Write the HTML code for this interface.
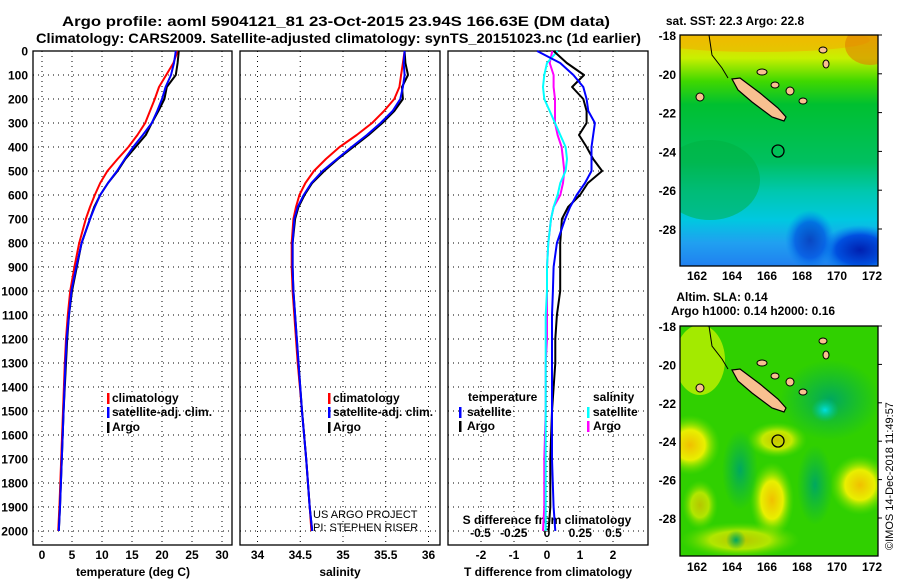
<!DOCTYPE html>
<html><head><meta charset="utf-8">
<style>
body{margin:0;background:#fff;}
svg{display:block;font-family:"Liberation Sans",sans-serif;font-weight:bold;}
</style></head>
<body>
<svg id="c" width="900" height="580" viewBox="0 0 900 580">
<defs>
<linearGradient id="sstg" x1="0" y1="0" x2="0" y2="1">
<stop offset="0" stop-color="#f0c800"/><stop offset="0.1" stop-color="#c8f000"/><stop offset="0.2" stop-color="#40d800"/>
<stop offset="0.3" stop-color="#00c030"/><stop offset="0.55" stop-color="#00c060"/><stop offset="0.68" stop-color="#00c8b0"/>
<stop offset="0.8" stop-color="#00c8e0"/><stop offset="0.9" stop-color="#20a0f0"/><stop offset="1" stop-color="#2080f0"/>
</linearGradient>
<radialGradient id="yb"><stop offset="0" stop-color="#f0c000"/><stop offset="0.5" stop-color="#e8f000"/><stop offset="1" stop-color="#60e000" stop-opacity="0"/></radialGradient>
<radialGradient id="db"><stop offset="0" stop-color="#0020b0"/><stop offset="0.6" stop-color="#0050e0"/><stop offset="1" stop-color="#0080f0" stop-opacity="0"/></radialGradient>
<radialGradient id="cb"><stop offset="0" stop-color="#00e0e0"/><stop offset="1" stop-color="#00c0a0" stop-opacity="0"/></radialGradient>
<radialGradient id="gb"><stop offset="0" stop-color="#00a860"/><stop offset="1" stop-color="#00b050" stop-opacity="0"/></radialGradient>
<clipPath id="m1"><rect x="680" y="35" width="198" height="231"/></clipPath>
<clipPath id="m2"><rect x="680" y="326" width="198" height="230"/></clipPath>
</defs>
<text x="62" y="26" font-size="14" textLength="548" lengthAdjust="spacingAndGlyphs">Argo profile: aoml 5904121_81 23-Oct-2015 23.94S 166.63E (DM data)</text>
<text x="36" y="43" font-size="14" textLength="605" lengthAdjust="spacingAndGlyphs">Climatology: CARS2009. Satellite-adjusted climatology: synTS_20151023.nc (1d earlier)</text>
<g id="panels"></g>
<g id="maps">
<g clip-path="url(#m1)">
<rect x="680" y="35" width="198" height="231" fill="url(#sstg)"/>
<ellipse cx="760" cy="40" rx="110" ry="12" fill="#f0b000" opacity="0.6"/>
<ellipse cx="870" cy="45" rx="25" ry="20" fill="#e08000" opacity="0.6"/>
<ellipse cx="860" cy="250" rx="40" ry="25" fill="url(#db)"/>
<ellipse cx="810" cy="240" rx="25" ry="30" fill="url(#db)" opacity="0.7"/>
<ellipse cx="710" cy="180" rx="50" ry="40" fill="#00b040" opacity="0.5"/>
</g>
<g clip-path="url(#m2)">
<rect x="680" y="326" width="198" height="230" fill="#30d000"/>
<ellipse cx="700" cy="360" rx="25" ry="35" fill="#c0f000" opacity="0.8"/>
<ellipse cx="830" cy="400" rx="50" ry="40" fill="url(#gb)"/>
<ellipse cx="825" cy="410" rx="14" ry="12" fill="url(#cb)"/>
<ellipse cx="690" cy="445" rx="30" ry="30" fill="url(#yb)"/>
<ellipse cx="777" cy="440" rx="30" ry="18" fill="url(#yb)" opacity="0.8"/>
<ellipse cx="860" cy="485" rx="30" ry="30" fill="url(#yb)"/>
<ellipse cx="772" cy="500" rx="22" ry="38" fill="url(#yb)"/>
<ellipse cx="700" cy="505" rx="18" ry="25" fill="url(#yb)" opacity="0.7"/>
<ellipse cx="740" cy="540" rx="60" ry="18" fill="url(#yb)" opacity="0.7"/>
<ellipse cx="740" cy="470" rx="18" ry="40" fill="url(#gb)"/>
<ellipse cx="815" cy="485" rx="18" ry="40" fill="url(#gb)"/>
<ellipse cx="736" cy="540" rx="10" ry="10" fill="url(#gb)"/>
</g>
</g>
<text x="735" y="25" font-size="12" text-anchor="middle">sat. SST: 22.3 Argo: 22.8</text>
<text x="722" y="301" font-size="12" text-anchor="middle">Altim. SLA: 0.14</text>
<text x="753" y="315" font-size="12" text-anchor="middle">Argo h1000: 0.14 h2000: 0.16</text>
<text transform="translate(893,550) rotate(-90)" font-size="11" font-weight="normal">©IMOS 14-Dec-2018 11:49:57</text>
</svg>
<script>
// Temperature profile data (deg C) by depth (m)
var depths = [0, 50, 100, 150, 200, 250, 300, 350, 400, 450, 500, 550, 600, 650, 700, 800, 900, 1000, 1100, 1200, 1300, 1500, 1700, 1900, 2000];
var tempClim = [22.6, 21.9, 20.7, 19.5, 18.8, 18.0, 17.2, 15.9, 14.4, 12.6, 10.9, 9.7, 8.8, 8.0, 7.3, 6.2, 5.4, 4.7, 4.3, 4.0, 3.8, 3.5, 3.2, 2.9, 2.7];
var tempSat = [22.3, 22.0, 21.5, 20.6, 20.0, 19.2, 18.3, 16.8, 15.2, 13.8, 12.5, 11.0, 9.7, 8.8, 8.0, 6.6, 5.7, 4.9, 4.5, 4.1, 3.9, 3.6, 3.3, 3.0, 2.8];
var tempArgo = [22.8, 22.6, 22.3, 20.8, 20.4, 19.4, 18.3, 17.3, 15.6, 13.9, 12.6, 11.0, 9.7, 8.7, 8.0, 6.6, 5.8, 5.0, 4.5, 4.2, 4.0, 3.6, 3.3, 3.0, 2.8];
// Salinity
var salClim = [35.72, 35.70, 35.68, 35.66, 35.60, 35.48, 35.34, 35.16, 34.96, 34.80, 34.66, 34.56, 34.49, 34.45, 34.42, 34.40, 34.40, 34.41, 34.43, 34.45, 34.47, 34.52, 34.57, 34.61, 34.63];
var salSat = [35.72, 35.71, 35.72, 35.70, 35.67, 35.58, 35.44, 35.28, 35.10, 34.93, 34.76, 34.63, 34.54, 34.47, 34.43, 34.41, 34.41, 34.42, 34.44, 34.46, 34.48, 34.52, 34.57, 34.61, 34.64];
var salArgo = [35.72, 35.73, 35.76, 35.69, 35.70, 35.60, 35.46, 35.30, 35.12, 34.94, 34.78, 34.64, 34.55, 34.48, 34.44, 34.41, 34.41, 34.42, 34.44, 34.46, 34.48, 34.52, 34.57, 34.61, 34.64];
// Differences from climatology
var dTArgo = [0.2, 0.6, 1.12, 0.76, 1.1, 1.2, 1.2, 0.97, 1.2, 1.4, 1.67, 1.24, 1.0, 0.64, 0.45, 0.4, 0.4, 0.4, 0.3, 0.25, 0.25, 0.15, 0.1, 0.1, 0.05];
var dTSat = [-0.3, 0.4, 0.8, 1.1, 1.2, 1.25, 1.45, 1.4, 1.35, 1.35, 1.35, 1.15, 0.9, 0.7, 0.55, 0.3, 0.2, 0.18, 0.15, 0.15, 0.15, 0.15, 0.15, 0.2, 0.25];
var dSSat = [0.08, 0.0, -0.02, -0.03, -0.02, 0.02, 0.06, 0.1, 0.14, 0.15, 0.14, 0.1, 0.08, 0.05, 0.03, 0.01, 0.0, 0.0, -0.01, -0.01, -0.01, -0.01, -0.01, -0.01, -0.01];
var dSArgo = [0.04, 0.02, 0.05, 0.05, 0.06, 0.06, 0.06, 0.08, 0.11, 0.12, 0.13, 0.12, 0.1, 0.05, 0.03, 0.01, 0.0, 0.0, 0.0, 0.0, -0.01, -0.01, -0.02, -0.02, -0.03];
var depthTicks = [0,100,200,300,400,500,600,700,800,900,1000,1100,1200,1300,1400,1500,1600,1700,1800,1900,2000];
var tempTicks = [0,5,10,15,20,25,30];
var salTicks = [34,34.5,35,35.5,36];
var salTickLabels = ["34","34.5","35","35.5","36"];
var dTTicks = [-2,-1,0,1,2];
var dSTicks = [-0.5,-0.25,0,0.25,0.5];
var dSTickLabels = ["-0.5","-0.25","0","0.25","0.5"];
var lonTicks = [162,164,166,168,170,172];
var latTicks = [-18,-20,-22,-24,-26,-28];

var NS = "http://www.w3.org/2000/svg";
var G = document.getElementById("panels");
function el(tag, attrs, parent) {
  var e = document.createElementNS(NS, tag);
  for (var k in attrs) e.setAttribute(k, attrs[k]);
  (parent || G).appendChild(e);
  return e;
}
function yD(d) { return 51 + d * 0.24; }
var TOP = 51, BOT = 545;
function xT(v) { return 42 + v * 6; }
function xS(v) { return 343 + (v - 35) * 85.5; }
function xDT(v) { return 547 + v * 33; }
function xDS(v) { return 547 + v * 133; }

function frame(x0, x1, name) {
  var r = el("rect", {x: x0, y: TOP, width: x1 - x0, height: BOT - TOP, fill: "none", stroke: "#000", "stroke-width": 1.3});
  
  
  depthTicks.forEach(function (d) {
    var g = el("line", {x1: x0, x2: x1, y1: yD(d), y2: yD(d), stroke: "#000", "stroke-width": 1, "stroke-dasharray": "1,4"});
    
    
  });
}
function vgrid(ticks, fx, labels, ly, name) {
  ticks.forEach(function (t, i) {
    var x = fx(t);
    var g = el("line", {x1: x, x2: x, y1: TOP, y2: BOT, stroke: "#000", "stroke-width": 1, "stroke-dasharray": "1,4"});
    
    
    var tx = el("text", {x: x, y: ly, "font-size": 12, "text-anchor": "middle"});
    tx.textContent = labels ? labels[i] : String(t);
    
    
  });
}
function line(xs, fx, color, name, w) {
  var pts = xs.map(function (v, i) { return fx(v).toFixed(1) + "," + yD(depths[i]).toFixed(1); }).join(" ");
  var p = el("polyline", {points: pts, fill: "none", stroke: color, "stroke-width": w || 2, "stroke-linejoin": "round"});
  
  
}
function txt(x, y, s, name, opts) {
  var a = {x: x, y: y, "font-size": 12};
  for (var k in (opts || {})) a[k] = opts[k];
  var t = el("text", a);
  t.textContent = s;
  
  
  return t;
}
function legendMark(x, y, color) {
  var m = el("rect", {x: x, y: y - 9, width: 2.5, height: 11, fill: color});
  
  
}

frame(33, 232, "temperature-panel");
frame(240, 440, "salinity-panel");
frame(448, 648, "difference-panel");
depthTicks.forEach(function (d) {
  txt(28, yD(d) + 4.5, String(d), "depth-tick-label", {"text-anchor": "end"});
});
vgrid(tempTicks, xT, null, 559, "temperature-tick-label");
vgrid(salTicks, xS, salTickLabels, 559, "salinity-tick-label");
vgrid(dTTicks, xDT, null, 559, "t-diff-tick-label");
dSTicks.forEach(function (t, i) {
  txt(xDS(t), 537, dSTickLabels[i], "s-diff-tick-label", {"text-anchor": "middle"});
});
txt(133, 576, "temperature (deg C)", "temperature-axis-title", {"text-anchor": "middle"});
txt(340, 576, "salinity", "salinity-axis-title", {"text-anchor": "middle"});
txt(548, 576, "T difference from climatology", "t-diff-axis-title", {"text-anchor": "middle"});
txt(547, 524, "S difference from climatology", "s-diff-axis-title", {"text-anchor": "middle"});

line(tempClim, xT, "#ff0000", "temp-climatology-line");
line(tempArgo, xT, "#000000", "temp-argo-line");
line(tempSat, xT, "#0000ff", "temp-satellite-line");
line(salClim, xS, "#ff0000", "sal-climatology-line");
line(salArgo, xS, "#000000", "sal-argo-line");
line(salSat, xS, "#0000ff", "sal-satellite-line");
line(dSArgo, xDS, "#ff00ff", "s-diff-argo-line");
line(dSSat, xDS, "#00ffff", "s-diff-satellite-line");
line(dTArgo, xDT, "#000000", "t-diff-argo-line");
line(dTSat, xDT, "#0000ff", "t-diff-satellite-line");

[[107, 402, "#ff0000", "climatology"], [107, 416, "#0000ff", "satellite-adj. clim."], [107, 431, "#000", "Argo"]].forEach(function (l) {
  legendMark(l[0], l[1], l[2]); txt(l[0] + 5, l[1], l[3], "temp-legend-entry");
});
[[328, 402, "#ff0000", "climatology"], [328, 416, "#0000ff", "satellite-adj. clim."], [328, 431, "#000", "Argo"]].forEach(function (l) {
  legendMark(l[0], l[1], l[2]); txt(l[0] + 5, l[1], l[3], "sal-legend-entry");
});
txt(468, 401, "temperature", "diff-legend-temperature-header");
legendMark(459, 416, "#0000ff"); txt(467, 416, "satellite", "diff-legend-temp-satellite");
legendMark(459, 430, "#000"); txt(467, 430, "Argo", "diff-legend-temp-argo");
txt(593, 401, "salinity", "diff-legend-salinity-header");
legendMark(587, 416, "#00ffff"); txt(593, 416, "satellite", "diff-legend-sal-satellite");
legendMark(587, 430, "#ff00ff"); txt(593, 430, "Argo", "diff-legend-sal-argo");
txt(313, 518, "US ARGO PROJECT", "project-credit", {"font-weight": "normal", "font-size": 11});
txt(313, 531, "PI: STEPHEN RISER", "pi-credit", {"font-weight": "normal", "font-size": 11});

var M = document.getElementById("maps");
function mapAxes(top, bot, latY0, latScale, lonY) {
  var r = el("rect", {x: 680, y: top, width: 198, height: bot - top, fill: "none", stroke: "#000", "stroke-width": 1.3}, M);
  
  
  latTicks.forEach(function (la) {
    var y = latY0 + (-18 - la) * latScale;
    var t = el("text", {x: 676, y: y + 5, "font-size": 12, "text-anchor": "end"}, M);
    t.textContent = String(la);
    
    
    el("line", {x1: 878, x2: 882, y1: y, y2: y, stroke: "#000"}, M);
  });
  lonTicks.forEach(function (lo) {
    var x = 697 + (lo - 162) * 17.5;
    var t = el("text", {x: x, y: lonY, "font-size": 12, "text-anchor": "middle"}, M);
    t.textContent = String(lo);
    
    
  });
}
function island(dy) {
  var p = el("polygon", {points: [[732,79],[740,78],[760,93],[778,108],[786,117],[784,121],[772,117],[752,102],[738,90]].map(function (q) { return q[0] + "," + (q[1] + dy); }).join(" "), fill: "#f8c090", stroke: "#000", "stroke-width": 1.2}, M);
  
  
  [[762,72,5,3],[775,85,4,3],[790,91,4,4],[803,101,4,3],[823,50,4,3],[826,64,3,4],[700,97,4,4]].forEach(function (s) {
    el("ellipse", {cx: s[0], cy: s[1] + dy, rx: s[2], ry: s[3], fill: "#f8c090", stroke: "#000"}, M);
  });
  var c = el("polyline", {points: "709," + (35 + dy) + " 712," + (55 + dy) + " 722," + (68 + dy) + " 728," + (78 + dy), fill: "none", stroke: "#000"}, M);
  
  
}
island(0);
island(291);
var c1 = el("circle", {cx: 778, cy: 151, r: 6, fill: "none", stroke: "#000", "stroke-width": 1.3}, M);


var c2 = el("circle", {cx: 778, cy: 441, r: 6, fill: "none", stroke: "#000", "stroke-width": 1.3}, M);


mapAxes(35, 266, 35, 19.4, 280);
mapAxes(326, 556, 326, 19.2, 571);
</script>
</body></html>
